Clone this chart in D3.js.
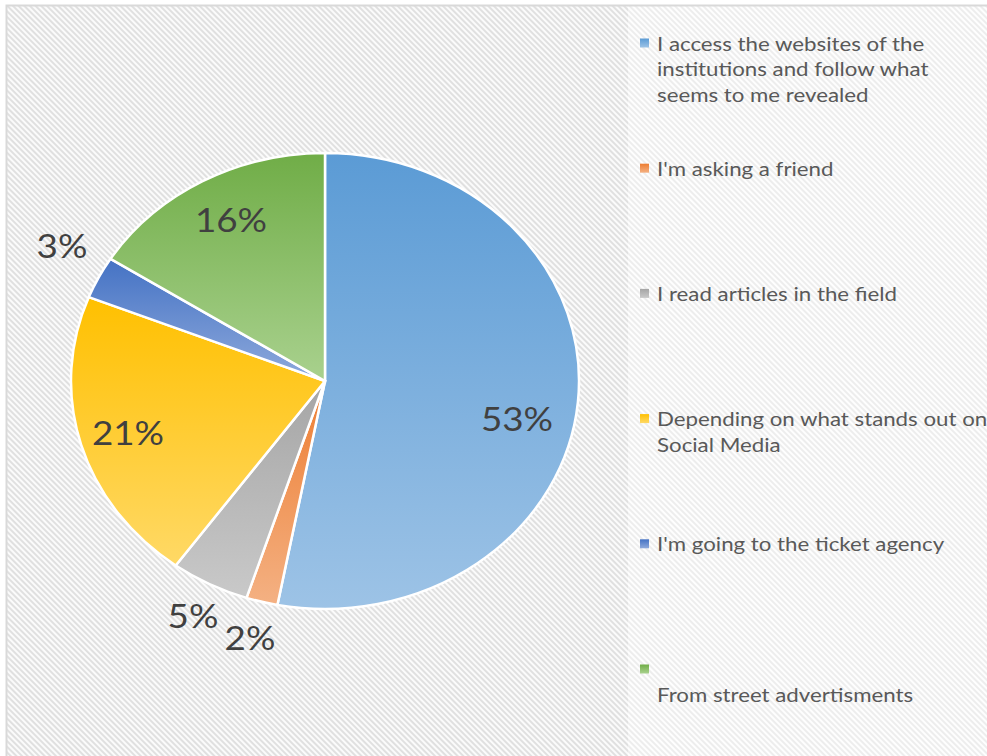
<!DOCTYPE html>
<html><head><meta charset="utf-8">
<script src="https://cdn.jsdelivr.net/npm/d3@7"></script>
<style>html,body{margin:0;padding:0;background:#fff;}svg{display:block;}</style>
</head><body>
<script>
const categories = [
  "I access the websites of the institutions and follow what seems to me revealed",
  "I'm asking a friend",
  "I read articles in the field",
  "Depending on what stands out on Social Media",
  "I'm going to the ticket agency",
  "From street advertisments"
];
const legendLines = [
  ["I access the websites of the", "institutions and follow what", "seems to me revealed"],
  ["I'm asking a friend"],
  ["I read articles in the field"],
  ["Depending on what stands out on", "Social Media"],
  ["I'm going to the ticket agency"],
  ["", "From street advertisments"]
];
const values = [53, 2, 5, 21, 3, 16];
const colorsTop = ["#5B9BD5", "#ED7D31", "#A5A5A5", "#FFC000", "#4472C4", "#70AD47"];
const colorsBottom = ["#9DC3E6", "#F4B183", "#C9C9C9", "#FFD966", "#8FAADC", "#A9D18E"];
const labelPos = [[517,418],[250,637],[193,615],[128,432],[62,245],[231,219]];

const W = 987, H = 756;
const SX = 1.114; // horizontal stretch of the original picture
const svg = d3.select("body").append("svg").attr("width", W).attr("height", H);
const defs = svg.append("defs");

function hatch(id, bg, fg) {
  const p = defs.append("pattern").attr("id", id).attr("patternUnits", "userSpaceOnUse")
    .attr("width", 4).attr("height", 4).attr("patternTransform", "rotate(-45)");
  p.append("rect").attr("width", 4).attr("height", 4).attr("fill", bg);
  p.append("rect").attr("x", 0).attr("width", 2).attr("height", 4).attr("fill", fg);
}
hatch("hatchMain", "#fbfbfb", "#e0e0e0");
hatch("hatchLegend", "#fefefe", "#ededed");

values.forEach((v, i) => {
  const g = defs.append("linearGradient").attr("id", "grad" + i)
    .attr("x1", 0).attr("y1", 0).attr("x2", 0).attr("y2", 1);
  g.append("stop").attr("offset", "0%").attr("stop-color", colorsTop[i]);
  g.append("stop").attr("offset", "100%").attr("stop-color", colorsBottom[i]);
});

// background
svg.append("rect").attr("x", 0).attr("y", 0).attr("width", W).attr("height", H).attr("fill", "#fff");
svg.append("rect").attr("x", 6).attr("y", 5).attr("width", W - 6).attr("height", H - 5).attr("fill", "url(#hatchMain)");
svg.append("rect").attr("x", 628).attr("y", 6).attr("width", W - 628).attr("height", H - 6).attr("fill", "url(#hatchLegend)");
svg.append("path").attr("d", `M6.5,${H} V5.5 H${W}`).attr("fill", "none").attr("stroke", "#d9d9d9").attr("stroke-width", 2);

// pie (ellipse: horizontal stretch)
const cx = 325, cy = 381, ry = 228, rx = 254;
const pie = d3.pie().sort(null).value(d => d)(values);
const arc = d3.arc().innerRadius(0).outerRadius(ry);
const pg = svg.append("g").attr("transform", `translate(${cx},${cy}) scale(${rx / ry},1)`);
pg.selectAll("path").data(pie).enter().append("path")
  .attr("d", arc)
  .attr("fill", (d, i) => `url(#grad${i})`)
  .attr("stroke", "#fff").attr("stroke-width", 2.5)
  .attr("vector-effect", "non-scaling-stroke");

// labels
svg.selectAll("text.lbl").data(values).enter().append("text")
  .attr("class", "lbl")
  .attr("transform", (d, i) => `translate(${labelPos[i][0]},${labelPos[i][1]}) scale(${SX},1)`)
  .attr("text-anchor", "middle").attr("dominant-baseline", "central")
  .attr("font-family", "Lato, 'Open Sans', sans-serif").attr("font-size", 33)
  .attr("fill", "#404040")
  .text(d => d + "%");

// legend
const lx = 640, ly0 = 43, lstep = 125.2, lh = 25.5;
const lg = svg.append("g");
categories.forEach((c, i) => {
  const y = ly0 + i * lstep;
  lg.append("rect").attr("x", lx).attr("y", y - 4.5).attr("width", 9).attr("height", 9)
    .attr("fill", `url(#grad${i})`);
  legendLines[i].forEach((t, j) => {
    lg.append("text").attr("transform", `translate(657,${y + j * lh}) scale(${SX},1)`)
      .attr("dominant-baseline", "central")
      .attr("font-family", "Lato, 'Open Sans', sans-serif").attr("font-size", 20)
      .attr("fill", "#595959").text(t);
  });
});
</script>
</body></html>
